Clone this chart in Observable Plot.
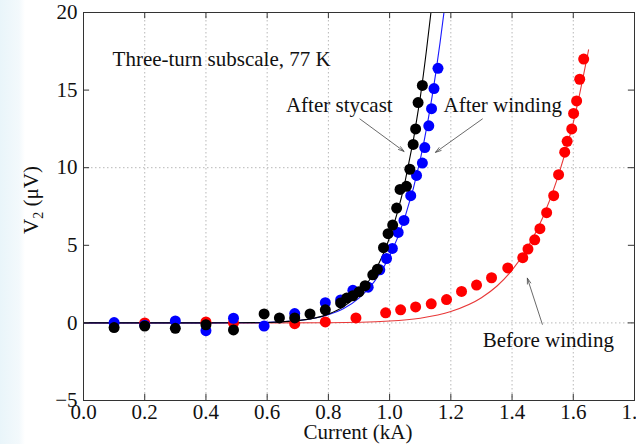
<!DOCTYPE html>
<html>
<head>
<meta charset="utf-8">
<script src="https://cdn.jsdelivr.net/npm/d3@7"></script>
<script src="https://cdn.jsdelivr.net/npm/@observablehq/plot@0.6"></script>
<style>
  html, body { margin: 0; padding: 0; }
  body { background: linear-gradient(90deg, #e9f5fa 0px, #f3f9fc 19px, #ffffff 25px); }
  #chart { width: 636px; height: 444px; overflow: hidden; }
</style>
</head>
<body>
<div id="chart"></div>
<script>
// Measured V2 (µV) against current (kA), three-turn subscale coil at 77 K
const stycastI = [0.10, 0.20, 0.30, 0.40, 0.49, 0.59, 0.64, 0.69, 0.74, 0.79, 0.84, 0.86, 0.88, 0.90, 0.92, 0.945, 0.96, 0.98, 0.995, 1.01, 1.023, 1.034, 1.055, 1.066, 1.077, 1.085, 1.093, 1.107];
const stycastV = [-0.3, -0.2, -0.35, -0.12, -0.45, 0.58, 0.32, 0.32, 0.58, 0.84, 1.29, 1.6, 1.75, 2.0, 2.4, 3.1, 3.45, 4.85, 5.75, 6.3, 7.4, 8.6, 8.8, 9.9, 11.5, 12.5, 14.2, 15.3];

const windingI = [0.10, 0.20, 0.30, 0.40, 0.49, 0.59, 0.69, 0.79, 0.84, 0.88, 0.93, 0.968, 0.99, 1.009, 1.028, 1.047, 1.069, 1.088, 1.107, 1.115, 1.128, 1.137, 1.145, 1.158];
const windingV = [0.02, -0.15, 0.13, -0.5, 0.3, -0.2, 0.6, 1.3, 1.48, 2.1, 2.3, 3.42, 4.15, 4.8, 5.83, 6.6, 8.2, 9.5, 10.3, 11.3, 12.7, 13.8, 15.1, 16.4];

const beforeI = [0.20, 0.40, 0.49, 0.69, 0.79, 0.89, 0.987, 1.036, 1.085, 1.136, 1.186, 1.235, 1.284, 1.333, 1.386, 1.435, 1.452, 1.474, 1.491, 1.513, 1.536, 1.552, 1.572, 1.58, 1.595, 1.601, 1.611, 1.621, 1.634];
const beforeV = [0.0, 0.06, 0.0, -0.05, 0.06, 0.32, 0.65, 0.84, 1.03, 1.23, 1.5, 2.03, 2.44, 2.91, 3.54, 4.2, 4.76, 5.35, 6.07, 7.1, 8.2, 9.55, 11.0, 11.7, 12.5, 13.5, 14.3, 15.7, 17.0];

// Fitted transition curves
const stycastFitI = [0, 0.3, 0.5, 0.6, 0.7, 0.8, 0.85, 0.9, 0.95, 1.0, 1.05, 1.1, 1.12, 1.135, 1.15];
const stycastFitV = [0, 0, 0.005, 0.03, 0.145, 0.565, 1.05, 1.88, 3.26, 5.5, 9.05, 14.5, 17.5, 20.0, 22.9];
const windingFitI = [0, 0.3, 0.5, 0.6, 0.7, 0.8, 0.85, 0.9, 0.95, 1.0, 1.05, 1.1, 1.15, 1.18, 1.2];
const windingFitV = [0, 0, 0.006, 0.035, 0.15, 0.53, 0.93, 1.6, 2.66, 4.3, 6.8, 10.5, 16.0, 20.4, 23.9];
const beforeFitI = [0, 0.6, 0.8, 1.0, 1.1, 1.2, 1.3, 1.35, 1.4, 1.45, 1.5, 1.55, 1.6, 1.65];
const beforeFitV = [0, 0, 0.013, 0.12, 0.3, 0.73, 1.62, 2.36, 3.4, 4.84, 6.78, 9.41, 12.9, 17.6];

// Axes
const xTicks = [0, 0.2, 0.4, 0.6, 0.8, 1.0, 1.2, 1.4, 1.6, 1.8];
const yTicks = [-5, 0, 5, 10, 15, 20];
const xGrid = [0.2, 0.4, 0.6, 0.8, 1.0, 1.2, 1.4, 1.6];
const yGrid = [0, 10];
const xLabel = "Current (kA)";

// Annotations
const notes = ["Three-turn subscale, 77 K", "After stycast", "After winding", "Before winding"];
const noteI = [0.095, 1.01, 1.176, 1.304];
const noteV = [17.0, 14.0, 14.0, -1.1];
const noteAnchor = ["start", "end", "start", "start"];
const arrowFromI = [0.903, 1.303, 1.499];
const arrowFromV = [13.14, 13.14, -0.09];
const arrowToI = [1.047, 1.15, 1.45];
const arrowToV = [11.05, 10.99, 2.88];

const rows = (xs, ys) => xs.map((x, i) => ({x, y: ys[i]}));
const noteRows = notes.map((t, i) => ({t, x: noteI[i], y: noteV[i], a: noteAnchor[i]}));
const arrowRows = arrowFromI.map((x1, i) => ({x1, y1: arrowFromV[i], x2: arrowToI[i], y2: arrowToV[i]}));

const font = '"Liberation Serif", "Times New Roman", serif';
const tickLenV = 0.4, tickLenI = 0.02;
const ink = "#111";

const chart = Plot.plot({
  width: 636,
  height: 444,
  marginLeft: 83,
  marginRight: 2,
  marginTop: 12,
  marginBottom: 44,
  style: {fontFamily: font, fontSize: "21px", color: ink, background: "transparent", overflow: "visible"},
  x: {domain: [0, 1.8]},
  y: {domain: [-5, 20]},
  marks: [
    Plot.ruleX(xGrid, {x: d => d, stroke: "#b8b8b8", strokeDasharray: "1.5,2.5", strokeWidth: 1}),
    Plot.ruleY(yGrid, {y: d => d, stroke: "#b8b8b8", strokeDasharray: "1.5,2.5", strokeWidth: 1}),
    Plot.line(rows(beforeFitI, beforeFitV), {x: "x", y: "y", stroke: "#e83838", strokeWidth: 1.1, curve: "monotone-x", clip: true}),
    Plot.line(rows(windingFitI, windingFitV), {x: "x", y: "y", stroke: "#1a1aff", strokeWidth: 1.1, curve: "monotone-x", clip: true}),
    Plot.line(rows(stycastFitI, stycastFitV), {x: "x", y: "y", stroke: "#000", strokeWidth: 1.1, curve: "monotone-x", clip: true}),
    Plot.dot(rows(beforeI, beforeV), {x: "x", y: "y", r: 5.5, fill: "#ff0000"}),
    Plot.dot(rows(windingI, windingV), {x: "x", y: "y", r: 5.5, fill: "#0000ff"}),
    Plot.dot(rows(stycastI, stycastV), {x: "x", y: "y", r: 5.5, fill: "#000000"}),
    Plot.frame({stroke: "#333", strokeWidth: 1}),
    Plot.ruleX(xTicks, {x: d => d, y1: -5, y2: -5 + tickLenV, stroke: "#333"}),
    Plot.ruleX(xTicks, {x: d => d, y1: 20, y2: 20 - tickLenV, stroke: "#333"}),
    Plot.ruleY(yTicks, {y: d => d, x1: 0, x2: tickLenI, stroke: "#333"}),
    Plot.ruleY(yTicks, {y: d => d, x1: 1.8, x2: 1.8 - tickLenI, stroke: "#333"}),
    Plot.axisX({ticks: xTicks, tickFormat: d3.format(".1f"), tickSize: 0, tickPadding: 4, label: null, fontSize: 21, fill: ink}),
    Plot.axisY({ticks: yTicks, tickFormat: d3.format("d"), tickSize: 0, tickPadding: 6, label: null, fontSize: 21, fill: ink}),
    Plot.arrow(arrowRows, {x1: "x1", y1: "y1", x2: "x2", y2: "y2", stroke: "#444", strokeWidth: 0.8, headLength: 11, headAngle: 35}),
    Plot.text(noteRows.filter(d => d.a === "start"), {x: "x", y: "y", text: "t", textAnchor: "start", fontSize: 21, fill: ink}),
    Plot.text(noteRows.filter(d => d.a === "end"), {x: "x", y: "y", text: "t", textAnchor: "end", fontSize: 21, fill: ink})
  ]
});

document.getElementById("chart").appendChild(chart);

// Axis titles, with a subscript on the y title
const svg = d3.select(chart);
svg.append("text")
  .attr("x", 358).attr("y", 439)
  .attr("text-anchor", "middle")
  .attr("fill", ink)
  .style("font-family", font).style("font-size", "21px")
  .text(xLabel);

const yTitle = svg.append("text")
  .attr("transform", "translate(38,200) rotate(-90)")
  .attr("text-anchor", "middle")
  .attr("fill", ink)
  .style("font-family", font).style("font-size", "21px");
yTitle.append("tspan").text("V");
yTitle.append("tspan").attr("font-size", 14).attr("dy", 5).text("2");
yTitle.append("tspan").attr("dy", -5).text(" (μV)");
</script>
</body>
</html>
